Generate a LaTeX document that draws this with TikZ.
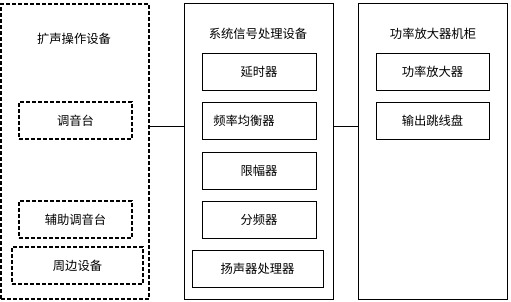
\documentclass[tikz,border=0pt]{standalone}
\usepackage{fontspec}
\setmainfont{Noto Sans CJK SC}
\begin{document}
\begin{tikzpicture}[x=1pt,y=-1pt,
  solidbox/.style={draw,line width=0.9pt,inner sep=0pt,font=\fontsize{12.3}{14}\selectfont},
  dashbox/.style={draw,line width=1.1pt,dash pattern=on 4pt off 2pt,inner sep=0pt,font=\fontsize{12.3}{14}\selectfont},
  lbl/.style={inner sep=0pt,font=\fontsize{12.3}{14}\selectfont},
  conn/.style={line width=0.9pt}]
\useasboundingbox (0,0) rectangle (511,301);
% left group
\node[dashbox,minimum width=148pt,minimum height=295pt] (L) at (75,151.5) {};
\node[lbl] (Lt) at (74,39) {扩声操作设备};
\node[dashbox,minimum width=113pt,minimum height=37pt] (l1) at (75.5,120.5) {调音台};
\node[dashbox,minimum width=113pt,minimum height=37pt] (l2) at (75.5,219.5) {辅助调音台};
\node[dashbox,minimum width=131pt,minimum height=37pt] (l3) at (77.5,265.5) {周边设备};
% middle group
\node[solidbox,minimum width=149pt,minimum height=296pt] (M) at (258.5,151) {};
\node[lbl] (Mt) at (258,34) {系统信号处理设备};
\node[solidbox,minimum width=114pt,minimum height=37pt] (m1) at (259,71.5) {延时器};
\node[solidbox,minimum width=114pt,minimum height=37pt] (m2) at (259,120.5) {};
\node[lbl] (m2t) at (244,120.5) {频率均衡器};
\node[solidbox,minimum width=114pt,minimum height=37pt] (m3) at (259,170.5) {限幅器};
\node[solidbox,minimum width=114pt,minimum height=37pt] (m4) at (259,219.5) {分频器};
\node[solidbox,minimum width=131pt,minimum height=37pt] (m5) at (257.5,268.5) {扬声器处理器};
% right group
\node[solidbox,minimum width=149pt,minimum height=296pt] (R) at (432.5,151) {};
\node[lbl] (Rt) at (433,34) {功率放大器机柜};
\node[solidbox,minimum width=113pt,minimum height=37pt] (r1) at (432.5,71.5) {功率放大器};
\node[solidbox,minimum width=113pt,minimum height=37pt] (r2) at (432.5,120.5) {输出跳线盘};
% connectors
\coordinate (yl) at (0,126);
\draw[conn] (L.east |- yl) -- (M.west |- yl);
\draw[conn] (M.east |- yl) -- (R.west |- yl);
\end{tikzpicture}
\end{document}
